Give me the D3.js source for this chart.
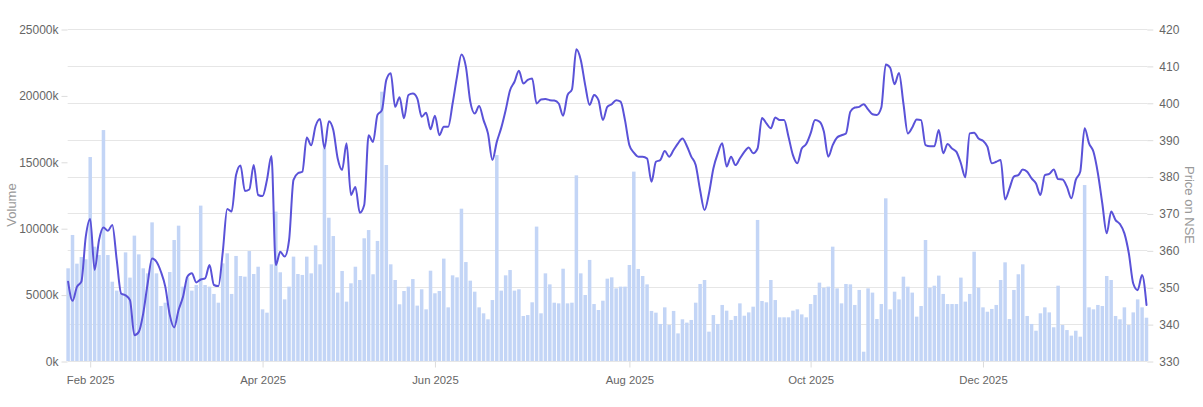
<!DOCTYPE html>
<html><head><meta charset="utf-8">
<script src="https://cdn.jsdelivr.net/npm/d3@7"></script>
<style>
html,body{margin:0;padding:0;background:#fff;}
svg{display:block;font-family:"Liberation Sans",Arial,sans-serif;}
</style></head>
<body>
<svg id="chart" width="1203" height="407"></svg>
<script>
// Daily volume (thousands of shares), one per trading day from late Jan 2025
const volume = [
6980,9490,7330,7830,7660,15360,8610,7980,17390,7980,5970,5300,5100,8180,6280,9440,8030,6980,6600,10440,6600,4140,4390,
6700,9110,10190,5600,6300,5300,5720,11700,
5720,5600,5050,4390,7350,8110,5050,7910,6400,6350,8280,6550,7100,3890,3640,7280,11250,
6680,4640,5600,7860,6550,6480,7860,6600,8710,7280,16010,10790,9410,5150,6780,4470,5850,7100,6100,9240,9860,6530,9040,20280,14760,7280,6100,4270,5270,5600,6170,4170,5400,3890,6800,5100,5270,7710,4040,6450,6300,11470,7450,6050,5220,4040,3590,3140,4590,15510,
5300,6450,6850,5300,5400,3390,3460,4420,10120,3590,6600,5770,4390,4340,6950,4340,4390,13980,6600,4970,7610,4290,3840,4540,6200,6300,5470,5600,5600,7230,14260,6930,6400,5770,3770,3640,2790,4040,2710,3770,2080,3140,2890,3090,4390,5800,6100,
2210,3460,2790,4220,3790,3090,3390,4340,3410,3660,4090,10620,4520,4420,6100,4590,3290,3290,3290,3790,3890,3510,3290,4290,4970,5900,5520,5600,8610,5470,4340,5800,5770,4220,5350,700,5470,5150,3160,4290,12250,3890,5220,4640,6350,5600,5150,3340,4140,
9110,5520,5670,6430,5050,4290,4290,4290,6280,4470,5050,8230,5520,4040,3710,3920,4220,6100,7430,3160,5350,6530,7280,3390,2790,2280,3590,4040,3660,2540,5670,2710,2330,1910,2280,1830,13250,4040,3890,4220,4140,6400,6100,3390,3140,4040,2710,3660,4640,4040,3260
];
// Closing price on NSE, same trading days
const price = [
351.5,346.3,350.1,351.5,363.7,368.5,354.7,362.8,366.2,365.3,366.9,357.4,348.3,347.8,346.5,337.0,337.9,342.9,351.0,357.8,356.9,354.2,350.1,
342.5,339.1,343.8,347.4,352.9,353.8,351.3,352.1,352.4,356.0,350.6,350.3,359.6,371.2,370.5,380.4,383.0,376.1,376.5,383.1,375.0,374.7,379.1,385.6,
356.0,359.6,358.3,362.8,379.1,380.9,381.3,390.6,388.5,393.7,395.6,387.6,395.0,392.6,384.9,381.8,389.0,375.0,377.2,370.2,372.3,391.2,389.4,396.7,
398.0,406.2,408.0,398.9,401.5,395.8,402.1,402.5,401.2,396.2,397.3,392.8,396.5,391.2,393.5,393.5,399.8,407.1,413.1,409.8,400.3,397.1,399.1,395.3,391.7,384.5,
389.4,393.2,398.0,403.4,405.7,408.7,405.2,406.2,406.6,399.8,400.9,401.0,400.7,400.6,399.8,396.5,402.1,403.6,414.5,411.6,404.8,399.4,402.1,400.7,395.3,
398.9,399.6,400.7,400.3,395.3,388.5,386.5,385.4,385.4,384.9,378.6,384.0,384.5,386.9,385.4,387.2,389.0,390.3,388.3,385.4,383.1,376.3,370.9,
375.4,382.2,386.3,389.0,382.7,385.4,383.1,384.9,386.7,387.9,386.3,387.6,395.9,394.4,393.1,396.0,395.3,395.3,390.8,385.8,383.6,387.6,388.8,391.7,
395.3,394.9,392.2,385.4,388.5,390.6,391.2,391.7,397.6,398.7,398.9,399.6,398.2,396.9,396.7,398.7,410.4,409.5,405.0,408.1,399.8,391.7,393.3,395.5,395.3,
388.5,388.2,388.2,392.6,386.3,388.8,387.6,386.7,383.6,379.8,391.7,391.9,390.3,389.7,388.1,383.6,384.0,384.5,373.8,376.8,380.0,380.4,381.9,381.3,
379.5,378.1,375.0,380.4,380.7,381.9,379.3,379.2,377.2,374.1,379.1,381.3,393.1,389.0,386.7,380.9,372.7,364.6,370.5,368.2,367.1,364.6,359.2,351.0,349.2,353.3,345.2
];
const monthLabels = ["Feb 2025","Apr 2025","Jun 2025","Aug 2025","Oct 2025","Dec 2025"];
const monthIndex = [5, 44, 83, 127, 168, 207];
const volumeTicks = [0, 5000, 10000, 15000, 20000, 25000];
const priceTicks = [330, 340, 350, 360, 370, 380, 390, 400, 410, 420];

const svg = d3.select("#chart");
const L = 67.7, R = 1147.3, T = 29, B = 361;
const x = d3.scaleLinear().domain([0, volume.length - 1]).range([68.1, 1146.5]);
const yVol = d3.scaleLinear().domain([0, 25000]).range([B, T]);
const yPrice = d3.scaleLinear().domain([330, 420]).range([B, T]);

// gridlines
svg.append("g").selectAll("line").data(priceTicks).join("line")
  .attr("x1", L).attr("x2", R)
  .attr("y1", d => Math.round(yPrice(d)) + 0.5).attr("y2", d => Math.round(yPrice(d)) + 0.5)
  .attr("stroke", "#e6e6e6").attr("stroke-width", 1);

// bars
const bw = 3.5;
svg.append("g").selectAll("rect").data(volume).join("rect")
  .attr("x", (d, i) => x(i) - bw / 2)
  .attr("width", bw)
  .attr("y", d => yVol(d))
  .attr("height", d => B - yVol(d))
  .attr("fill", "#c3d5f6");

// price line
const line = d3.line().x((d, i) => x(i)).y(d => yPrice(d)).curve(d3.curveMonotoneX);
svg.append("path").datum(price).attr("d", line)
  .attr("fill", "none").attr("stroke", "#5a52d8").attr("stroke-width", 2)
  .attr("stroke-linejoin", "round").attr("stroke-linecap", "round");

function styleAxis(g, size) {
  g.select(".domain").remove();
  g.selectAll(".tick line").attr("stroke", "#dcdcdc");
  g.selectAll(".tick text").attr("fill", "#666").style("font-size", size)
    .style("font-family", '"Liberation Sans",Arial,sans-serif');
}

// left axis
svg.append("g").attr("transform", `translate(${L - 0.2},0.5)`)
  .call(d3.axisLeft(yVol).tickValues(volumeTicks).tickSize(6).tickPadding(3).tickFormat(d => d + "k"))
  .call(g => styleAxis(g, "12px"));

// right axis
svg.append("g").attr("transform", `translate(${R},0.5)`)
  .call(d3.axisRight(yPrice).tickValues(priceTicks).tickSize(6).tickPadding(6).tickFormat(d3.format("d")))
  .call(g => styleAxis(g, "12px"));

// bottom axis
svg.append("g").attr("transform", `translate(0,${B + 0.5})`)
  .call(d3.axisBottom(x).tickValues(monthIndex).tickSize(6).tickPadding(8).tickFormat((d, i) => monthLabels[i]))
  .call(g => styleAxis(g, "11.3px"));

// axis titles
svg.append("text").attr("transform", "translate(16,205) rotate(-90)")
  .attr("text-anchor", "middle").attr("fill", "#999").style("font-size", "13px").text("Volume");
svg.append("text").attr("transform", "translate(1185,205) rotate(90)")
  .attr("text-anchor", "middle").attr("fill", "#999").style("font-size", "13px").text("Price on NSE");
</script>
</body></html>
